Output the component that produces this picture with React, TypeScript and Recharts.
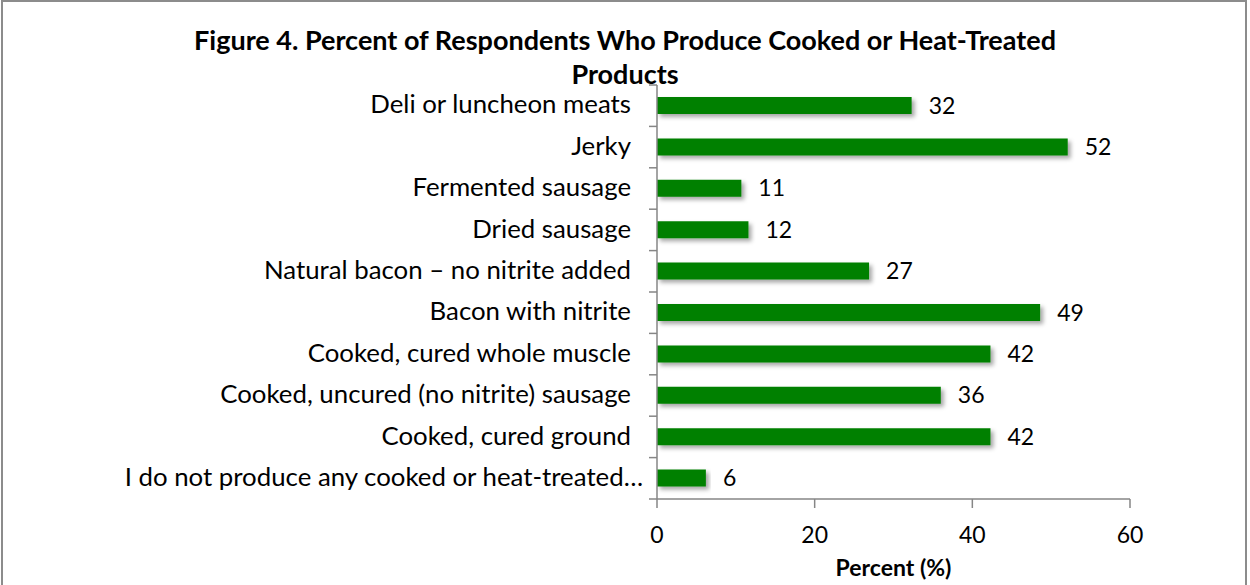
import React from 'react';
import { BarChart, Bar, XAxis, YAxis, LabelList } from 'recharts';

const categories = [
  'Deli or luncheon meats',
  'Jerky',
  'Fermented sausage',
  'Dried sausage',
  'Natural bacon – no nitrite added',
  'Bacon with nitrite',
  'Cooked, cured whole muscle',
  'Cooked, uncured (no nitrite) sausage',
  'Cooked, cured ground',
  'I do not produce any cooked or heat-treated…',
];
const percents = [32.3, 52.1, 10.7, 11.6, 26.9, 48.6, 42.3, 36.0, 42.3, 6.2];
const xTicks = [0, 20, 40, 60];

const data = categories.map((name, i) => ({ name, value: percents[i] }));

const FONT = 'Lato, "Open Sans", sans-serif';
const AXIS_GRAY = '#868686';

const W = 1250;
const H = 585;
const MARGIN = { top: 85, right: 120, bottom: 36, left: 0 };
const X_AXIS_H = 50;
const Y_AXIS_W = 657;
const BAND = (H - MARGIN.top - MARGIN.bottom - X_AXIS_H) / categories.length;

// category label + tick marks between categories (Excel style)
const CategoryTick = ({ x, y, payload, index }: any) => {
  const last = index === categories.length - 1;
  return (
    <g>
      <line x1={x - 8} x2={x} y1={y - BAND / 2} y2={y - BAND / 2} stroke={AXIS_GRAY} strokeWidth={1.5} />
      {last && (
        <line x1={x - 8} x2={x} y1={y + BAND / 2} y2={y + BAND / 2} stroke={AXIS_GRAY} strokeWidth={1.5} />
      )}
      <text x={x - (last ? 14 : 26)} y={y} dy="0.3em" textAnchor="end" fill="#000" fontSize={25.8} fontFamily={FONT}>
        {payload.value}
      </text>
    </g>
  );
};

export default function App() {
  return (
    <div style={{ position: 'absolute', left: 0, top: 0, width: W, height: H, overflow: 'hidden', background: '#fff' }}>
      <div style={{ position: 'absolute', left: 1, top: 0, width: 1246, height: 600, border: '2px solid #8c8c8c', boxSizing: 'border-box' }} />
      <div style={{ position: 'absolute', left: 0, top: 23, width: W, textAlign: 'center', fontFamily: FONT, fontWeight: 700, fontSize: 27, lineHeight: '34px', color: '#000' }}>
        Figure 4. Percent of Respondents Who Produce Cooked or Heat-Treated<br />Products
      </div>
      <div style={{ position: 'absolute', left: 0, top: 0 }}>
        <BarChart width={W} height={H} layout="vertical" data={data} margin={MARGIN}>
          <defs>
            <filter id="barShadow" x="-5%" y="-30%" width="115%" height="180%">
              <feDropShadow dx="3" dy="3" stdDeviation="2" floodColor="#000" floodOpacity="0.35" />
            </filter>
          </defs>
          <XAxis
            type="number"
            domain={[0, 60]}
            ticks={xTicks}
            height={X_AXIS_H}
            tickSize={9}
            tickMargin={19}
            tick={{ fill: '#000', fontSize: 23, fontFamily: FONT }}
            axisLine={{ stroke: AXIS_GRAY, strokeWidth: 1.5 }}
            tickLine={{ stroke: AXIS_GRAY, strokeWidth: 1.5 }}
          />
          <YAxis
            type="category"
            dataKey="name"
            width={Y_AXIS_W}
            tickLine={false}
            tickSize={0}
            tickMargin={0}
            axisLine={{ stroke: AXIS_GRAY, strokeWidth: 1.5 }}
            tick={<CategoryTick />}
            interval={0}
          />
          <Bar dataKey="value" fill="#008000" barSize={17} isAnimationActive={false} filter="url(#barShadow)">
            <LabelList
              dataKey="value"
              position="right"
              offset={17}
              fill="#000"
              fontSize={23}
              fontFamily={FONT}
              formatter={(v: any) => Math.round(Number(v))}
            />
          </Bar>
        </BarChart>
      </div>
      <div style={{ position: 'absolute', left: 657, width: 473, top: 553, textAlign: 'center', fontFamily: FONT, fontWeight: 700, fontSize: 23, color: '#000' }}>
        Percent (%)
      </div>
    </div>
  );
}
